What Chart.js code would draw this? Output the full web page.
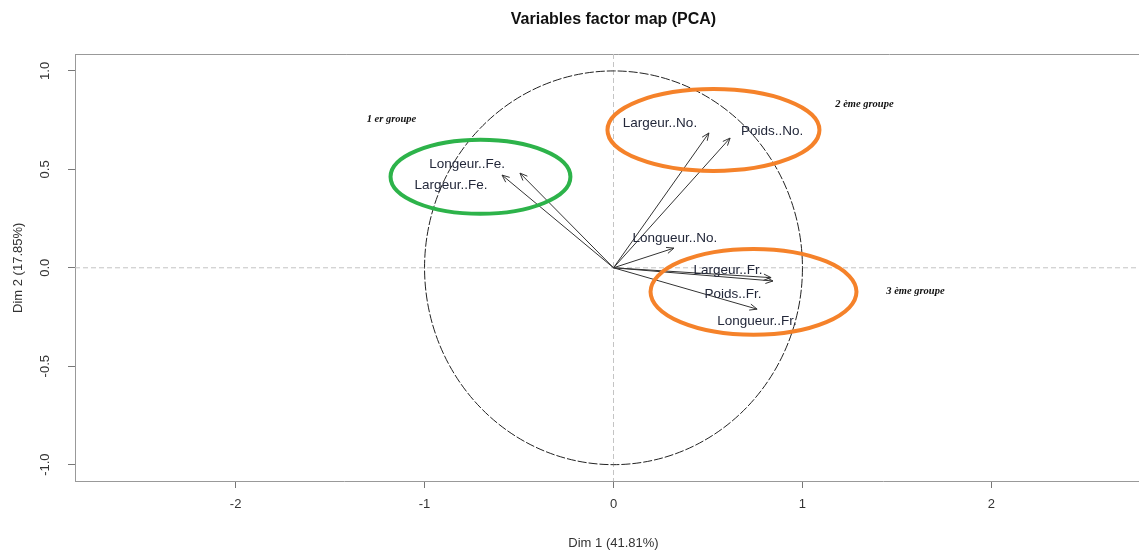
<!DOCTYPE html>
<html>
<head>
<meta charset="utf-8">
<script src="https://cdn.jsdelivr.net/npm/chart.js@4.4.0/dist/chart.umd.min.js"></script>
<style>
  html, body { margin: 0; padding: 0; background: #fff; overflow: hidden; }
  #wrap { width: 1160px; height: 552px; }
</style>
</head>
<body>
<div id="wrap"><canvas id="pcaChart"></canvas></div>
<script>
// variables of the PCA and their coordinates on Dim 1 / Dim 2
const varNames = ["Longeur..Fe.", "Largeur..Fe.", "Largeur..No.", "Poids..No.",
  "Longueur..No.", "Largeur..Fr.", "Poids..Fr.", "Longueur..Fr."];
const dim1 = [-0.495, -0.59, 0.505, 0.617, 0.32, 0.834, 0.844, 0.76];
const dim2 = [0.481, 0.471, 0.685, 0.659, 0.10, -0.05, -0.067, -0.21];
// where each name was written (data units)
const labelX = [-0.775, -0.86, 0.246, 0.839, 0.325, 0.606, 0.632, 0.759];
const labelY = [0.527, 0.42, 0.735, 0.695, 0.151, -0.011, -0.133, -0.27];

const xTicks = [-2, -1, 0, 1, 2];
const yTicks = [-1.0, -0.5, 0.0, 0.5, 1.0];

// hand drawn groups
const groupNames = ["1 er groupe", "2 ème groupe", "3 ème groupe"];
const groupTextX = [-1.175, 1.328, 1.598];
const groupTextY = [0.756, 0.832, -0.117];
const ellipseX = [-0.704, 0.529, 0.741];
const ellipseY = [0.462, 0.70, -0.122];
const ellipseRx = [0.476, 0.561, 0.545];
const ellipseRy = [0.188, 0.208, 0.218];
const ellipseColors = ["#2db34a", "#f5822a", "#f5822a"];

const datasets = varNames.map((name, i) => {
  return {
    label: name,
    data: [{ x: 0, y: 0 }, { x: dim1[i], y: dim2[i] }],
    showLine: true,
    borderColor: "#333",
    borderWidth: 1,
    pointRadius: 0,
  };
});

const pcaPlugin = {
  id: "pcaPlugin",
  beforeDatasetsDraw(chart) {
    const c = chart.ctx;
    const xs = chart.scales.x;
    const ys = chart.scales.y;
    const area = chart.chartArea;

    // frame (left, top, bottom)
    c.save();
    c.strokeStyle = "#999";
    c.lineWidth = 1;
    c.beginPath();
    c.moveTo(area.right + 20, area.top + 0.5);
    c.lineTo(area.left + 0.5, area.top + 0.5);
    c.lineTo(area.left + 0.5, area.bottom);
    c.stroke();

    // zero lines
    c.strokeStyle = "#c4c4c4";
    c.setLineDash([5, 3]);
    c.beginPath();
    c.moveTo(xs.getPixelForValue(0), area.top);
    c.lineTo(xs.getPixelForValue(0), area.bottom);
    c.moveTo(area.left, ys.getPixelForValue(0));
    c.lineTo(area.right, ys.getPixelForValue(0));
    c.stroke();

    // correlation circle
    c.strokeStyle = "#222";
    c.setLineDash([9, 2]);
    c.beginPath();
    c.ellipse(xs.getPixelForValue(0), ys.getPixelForValue(0),
      xs.getPixelForValue(1) - xs.getPixelForValue(0),
      ys.getPixelForValue(0) - ys.getPixelForValue(1), 0, 0, Math.PI * 2);
    c.stroke();
    c.setLineDash([]);
    c.restore();
  },
  afterDatasetsDraw(chart) {
    const c = chart.ctx;
    const xs = chart.scales.x;
    const ys = chart.scales.y;
    const area = chart.chartArea;
    c.save();

    // arrow heads
    c.strokeStyle = "#333";
    c.lineWidth = 1;
    for (let i = 0; i < varNames.length; i++) {
      const px = xs.getPixelForValue(dim1[i]);
      const py = ys.getPixelForValue(dim2[i]);
      const ang = Math.atan2(py - ys.getPixelForValue(0), px - xs.getPixelForValue(0));
      c.beginPath();
      c.moveTo(px - 8 * Math.cos(ang - 0.4), py - 8 * Math.sin(ang - 0.4));
      c.lineTo(px, py);
      c.lineTo(px - 8 * Math.cos(ang + 0.4), py - 8 * Math.sin(ang + 0.4));
      c.stroke();
    }

    // variable names
    c.fillStyle = "#23283a";
    c.font = "13.5px Arial, 'Liberation Sans'";
    c.textAlign = "center";
    c.textBaseline = "middle";
    for (let i = 0; i < varNames.length; i++) {
      c.fillText(varNames[i], xs.getPixelForValue(labelX[i]), ys.getPixelForValue(labelY[i]));
    }

    // group ellipses and their names
    c.lineWidth = 4;
    for (let i = 0; i < groupNames.length; i++) {
      c.strokeStyle = ellipseColors[i];
      c.beginPath();
      c.ellipse(xs.getPixelForValue(ellipseX[i]), ys.getPixelForValue(ellipseY[i]),
        xs.getPixelForValue(ellipseRx[i]) - xs.getPixelForValue(0),
        ys.getPixelForValue(0) - ys.getPixelForValue(ellipseRy[i]), 0, 0, Math.PI * 2);
      c.stroke();
    }
    c.fillStyle = "#111";
    c.font = "italic bold 10.5px 'Liberation Serif', serif";
    for (let i = 0; i < groupNames.length; i++) {
      c.fillText(groupNames[i], xs.getPixelForValue(groupTextX[i]), ys.getPixelForValue(groupTextY[i]));
    }

    // y tick labels, rotated like R
    c.fillStyle = "#333";
    c.font = "13px Arial, 'Liberation Sans'";
    yTicks.forEach((v) => {
      c.save();
      c.translate(area.left - 30, ys.getPixelForValue(v));
      c.rotate(-Math.PI / 2);
      c.fillText(v.toFixed(1), 0, 0);
      c.restore();
    });

    // axis titles and main title
    c.save();
    c.translate(18, ys.getPixelForValue(0));
    c.rotate(-Math.PI / 2);
    c.fillText("Dim 2 (17.85%)", 0, 0);
    c.restore();
    c.fillText("Dim 1 (41.81%)", xs.getPixelForValue(0), 543);
    c.font = "bold 16px Arial, 'Liberation Sans'";
    c.fillStyle = "#111";
    c.fillText("Variables factor map (PCA)", xs.getPixelForValue(0), 20);
    c.restore();
  },
};

let ctx = document.getElementById("pcaChart");
new Chart(ctx, {
  type: "scatter",
  data: { datasets: datasets },
  options: {
    responsive: true,
    maintainAspectRatio: false,
    animation: false,
    layout: { padding: { top: 54, right: 8, left: 0, bottom: 0 } },
    plugins: {
      legend: { display: false },
      tooltip: { enabled: false },
    },
    scales: {
      x: {
        type: "linear",
        min: -2.85,
        max: 2.85,
        afterBuildTicks: (scale) => {
          scale.ticks = xTicks.map((v) => ({ value: v }));
        },
        afterFit: (scale) => {
          scale.height = 71;
        },
        grid: { display: true, drawOnChartArea: false, drawTicks: true, tickLength: 7, color: "#777" },
        border: { display: true, color: "#999" },
        ticks: {
          color: "#333",
          font: { family: "Arial, 'Liberation Sans'", size: 13 },
          padding: 9,
          maxRotation: 0,
          callback: (v) => String(v),
        },
      },
      y: {
        type: "linear",
        min: -1.083,
        max: 1.086,
        afterBuildTicks: (scale) => {
          scale.ticks = yTicks.map((v) => ({ value: v }));
        },
        afterFit: (scale) => {
          scale.width = 75;
        },
        grid: { display: true, drawOnChartArea: false, drawTicks: true, tickLength: 7, color: "#777" },
        border: { display: true, color: "#999" },
        ticks: { display: false },
      },
    },
  },
  plugins: [pcaPlugin],
});
</script>
</body>
</html>
